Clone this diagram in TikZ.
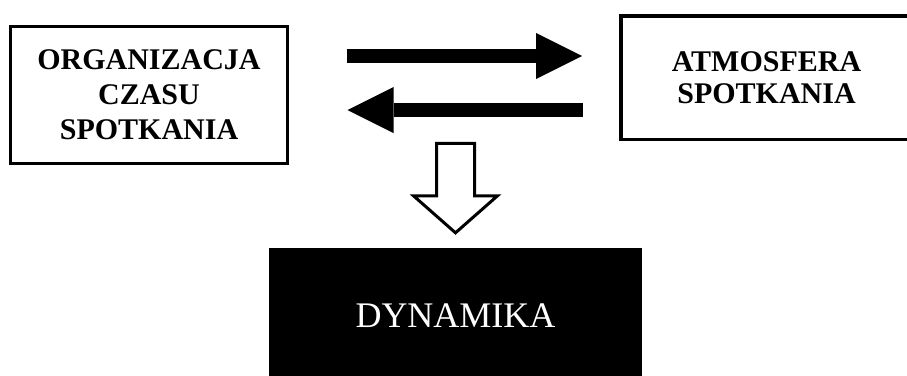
\documentclass[tikz,border=0pt]{standalone}
\usepackage{fontspec}
\setmainfont{Liberation Serif}
\usepackage{tikz}
\usetikzlibrary{calc, arrows.meta}
\tikzstyle{fatarrow} = [line width=14pt,-{Triangle[length=46pt,width=46pt,line width=0pt]}]

\begin{document}
\begin{tikzpicture}[
    x=1pt, y=-1pt,
    box/.style={draw, line width=3pt, align=center, inner sep=0pt,
      font=\fontsize{30}{35}\selectfont\bfseries},
    hollow/.style={draw, line width=3pt, fill=white, line join=miter},
  ]
  \path[use as bounding box, clip] (0,0) rectangle (907,375);

  \node[box, minimum width=277pt, minimum height=137pt] (org) at (149,95)
    {ORGANIZACJA\\CZASU\\SPOTKANIA};
  \node[box, line width=3.5pt, minimum width=291.5pt, minimum height=123.5pt,
    font=\fontsize{30}{32.5}\selectfont\bfseries] (atm) at (766.5,77.5)
    {ATMOSFERA\\SPOTKANIA};
  \node[fill=black, text=white, inner sep=0pt, minimum width=373pt,
    minimum height=136pt, font=\fontsize{36}{40}\selectfont] (dyn) at (455.5,316)
    {DYNAMIKA};

  % arrows between the two upper boxes
  \draw[fatarrow] ($(org.east)+(57.5,-39)$) -- ($(atm.west)+(-37,-21.5)$);
  \draw[fatarrow] ($(atm.west)+(-36,32.5)$) -- ($(org.east)+(58.5,15)$);

  % open arrow down to the black box
  \draw[hollow] ($(dyn.north)+(0,-15)$) coordinate (tip)
    -- ++(-42,-37) -- ++(23,0) -- ++(0,-52.5) -- ++(38,0)
    -- ++(0,52.5) -- ++(23,0) -- cycle;
\end{tikzpicture}
\end{document}
